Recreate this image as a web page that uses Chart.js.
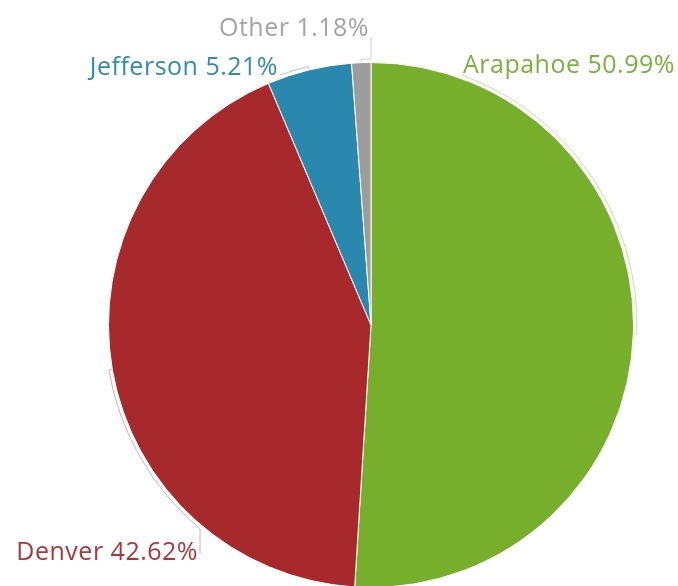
<!DOCTYPE html>
<html>
<head>
<meta charset="utf-8">
<script src="https://cdn.jsdelivr.net/npm/chart.js@4.4.0/dist/chart.umd.min.js"></script>
<style>
    body { margin: 0; background: #fff; overflow: hidden; }
    .chart__wrap { position: relative; width: 678px; height: 600px; }
</style>
</head>
<body>
<div class="chart__wrap"><canvas id="pieChart"></canvas></div>
<script>
const counties = ['Arapahoe', 'Denver', 'Jefferson', 'Other'];
const shares = [50.99, 42.62, 5.21, 1.18];
const sliceColors = ['#77ae2c', '#a8292b', '#2a88ae', '#9c9c9c'];
const textColors = ['#7ab33a', '#b0353a', '#2f8cb3', '#a3a3a3'];
const lineColors = ['#c6dfa8', '#e0a9aa', '#9fcbe0', '#cfcfcf'];

// where each leader line stops (degrees clockwise from top) and how it meets the label
const calloutEnd = [20, 220, 340, 360];
const calloutRise = [0, 25, 0, -22];
const calloutAlign = ['left', 'right', 'right', 'right'];
const calloutShift = [[1, -2], [-2, 6], [-2, 0], [-2, -1]];

const calloutPlugin = {
    id: 'callouts',
    afterDatasetsDraw(chart) {
        const ctx = chart.ctx;
        const arcs = chart.getDatasetMeta(0).data;
        ctx.save();
        ctx.font = '25px "Open Sans", sans-serif';
        ctx.letterSpacing = '0.5px';
        ctx.textBaseline = 'alphabetic';
        arcs.forEach(function (arc, i) {
            const cx = arc.x, cy = arc.y;
            const r = arc.outerRadius + 3.5;
            const mid = (arc.startAngle + arc.endAngle) / 2;
            const end = (calloutEnd[i] - 90) * Math.PI / 180;

            ctx.strokeStyle = lineColors[i];
            ctx.lineWidth = 1;
            ctx.beginPath();
            ctx.moveTo(cx + (r - 3) * Math.cos(mid), cy + (r - 3) * Math.sin(mid));
            ctx.lineTo(cx + r * Math.cos(mid), cy + r * Math.sin(mid));
            ctx.arc(cx, cy, r, mid, end, end < mid);
            let ex = cx + r * Math.cos(end);
            let ey = cy + r * Math.sin(end);
            if (calloutRise[i] !== 0) {
                ey += calloutRise[i];
                ctx.lineTo(ex, ey);
            }
            ctx.stroke();

            ctx.fillStyle = textColors[i];
            ctx.textAlign = calloutAlign[i];
            ctx.fillText(counties[i] + ' ' + shares[i].toFixed(2) + '%',
                ex + calloutShift[i][0], ey + calloutShift[i][1]);
        });
        ctx.restore();
    }
};

new Chart(document.getElementById('pieChart'), {
    type: 'pie',
    data: {
        labels: counties,
        datasets: [{
            data: shares,
            backgroundColor: sliceColors,
            borderColor: '#ffffff',
            borderWidth: 1
        }]
    },
    options: {
        responsive: true,
        maintainAspectRatio: false,
        animation: false,
        layout: {
            padding: { left: 108, right: 44, top: 62, bottom: 12 }
        },
        plugins: {
            legend: { display: false },
            tooltip: { enabled: false }
        }
    },
    plugins: [calloutPlugin]
});
</script>
</body>
</html>
